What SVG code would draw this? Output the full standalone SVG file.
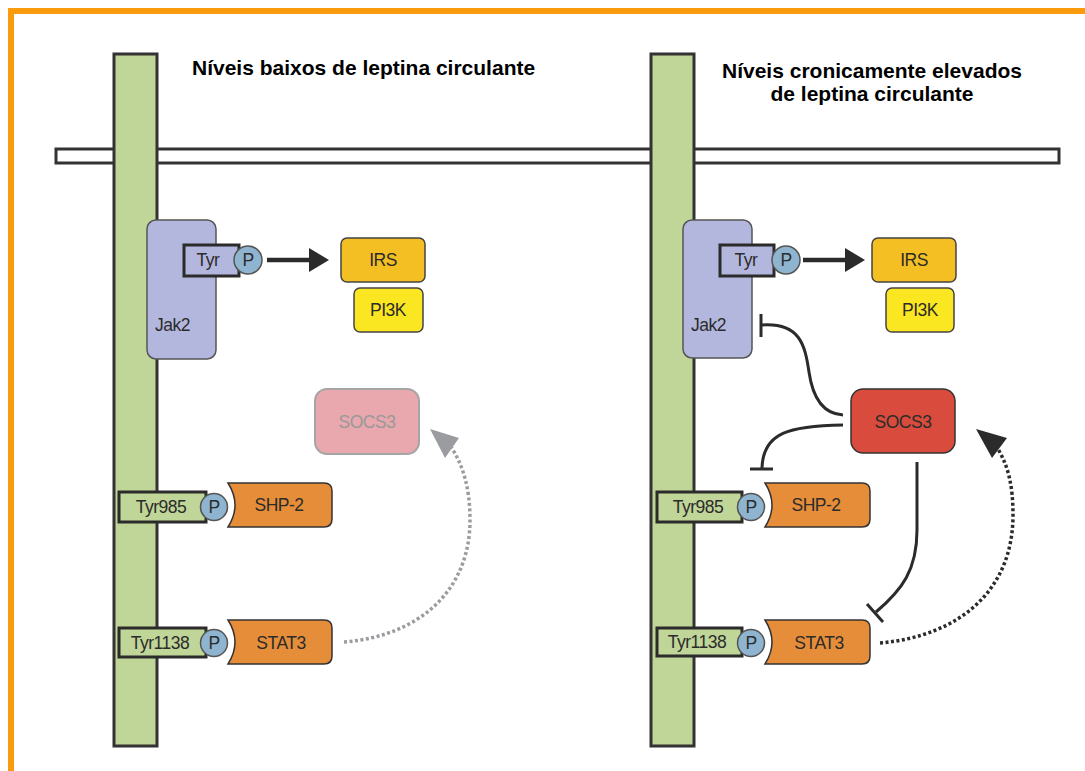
<svg xmlns="http://www.w3.org/2000/svg" width="1085" height="771" viewBox="0 0 1085 771">
<style>
text{font-family:"Liberation Sans",Arial,sans-serif;fill:#2b2b2b}
.title{font-weight:bold;font-size:21px;fill:#000}
.lbl{font-size:17.5px;letter-spacing:-0.5px}
.pillar{fill:#c0d698;stroke:#333;stroke-width:3}
.jak{fill:#b3b7dd;stroke:#555;stroke-width:1.5}
.tyr{fill:#b3b7dd;stroke:#2b2b2b;stroke-width:3}
.tyrg{fill:#c0d698;stroke:#2b2b2b;stroke-width:3}
.p{fill:#8fb4cf;stroke:#555;stroke-width:1.5}
.irs{fill:#f3bf22;stroke:#444;stroke-width:1.5}
.pi3k{fill:#fbe622;stroke:#444;stroke-width:1.5}
.org{fill:#e68d39;stroke:#333;stroke-width:1.5}
.inh{fill:none;stroke:#2b2b2b;stroke-width:3}
.dot{fill:none;stroke-width:3.5;stroke-dasharray:3 2.5}
</style>
<rect x="0" y="0" width="1085" height="771" fill="#fff"/>
<rect x="8" y="8" width="1077" height="6" fill="#f99b0c"/>
<rect x="8" y="8" width="6" height="763" fill="#f99b0c"/>

<g id="titles">
<text class="title" x="192" y="75">Níveis baixos de leptina circulante</text>
<text class="title" x="872" y="78" text-anchor="middle">Níveis cronicamente elevados</text>
<text class="title" x="872" y="101" text-anchor="middle">de leptina circulante</text>
</g>

<g id="membrane"><rect x="56" y="149" width="1003" height="14" fill="#fff" stroke="#333" stroke-width="3"/></g>
<g id="receptor-left"><rect class="pillar" x="114" y="54" width="43" height="692"/></g>
<g id="receptor-right"><rect class="pillar" x="651" y="54" width="43" height="692"/></g>

<g id="connectors">
<path d="M267,260 H312" stroke="#2b2b2b" stroke-width="4.5" fill="none"/>
<path d="M309,248 L329,260 L309,272 z" fill="#2b2b2b"/>
<path d="M803,260 H848" stroke="#2b2b2b" stroke-width="4.5" fill="none"/>
<path d="M845,248 L865,260 L845,272 z" fill="#2b2b2b"/>
<path class="dot" stroke="#9a9ca0" d="M344,642 C420,636 470,590 470,520 C470,488 463,465 451,447"/>
<path d="M430,429 L459,438 L445,458 z" fill="#9a9ca0"/>
<path class="dot" stroke="#2b2b2b" d="M880,643 C960,636 1013,590 1013,515 C1013,485 1008,466 998,449"/>
<path d="M976,429 L1007,438 L992,458 z" fill="#2b2b2b"/>
<path class="inh" d="M761,325 C800,322 805,345 809,372 C813,400 825,414 843,415"/>
<path class="inh" d="M761,314 V337"/>
<path class="inh" d="M843,425 C790,426 763,432 762,468"/>
<path class="inh" d="M750,469 H773"/>
<path class="inh" d="M917,462 V530 C917,570 902,590 876,612"/>
<path class="inh" d="M867,604 L883,622"/>
</g>

<g id="jak2-left">
<rect class="jak" x="147" y="220" width="69" height="139" rx="9"/>
<text class="lbl" x="155" y="331">Jak2</text>
</g>
<g id="tyr-left">
<rect class="tyr" x="184" y="245" width="55" height="31"/>
<text class="lbl" x="208" y="266" text-anchor="middle">Tyr</text>
<circle class="p" cx="248" cy="260" r="14"/>
<text class="lbl" x="248" y="266" text-anchor="middle">P</text>
</g>
<g id="irs-left"><rect class="irs" x="341" y="238" width="84" height="44" rx="6"/><text class="lbl" x="383" y="266" text-anchor="middle">IRS</text></g>
<g id="pi3k-left"><rect class="pi3k" x="354" y="288" width="69" height="44" rx="6"/><text class="lbl" x="388" y="316" text-anchor="middle">PI3K</text></g>
<g id="socs3-left"><rect x="315" y="389" width="104" height="65" rx="12" fill="#e8a8ad" stroke="#a5a5a5" stroke-width="2"/><text class="lbl" x="367" y="428" text-anchor="middle" style="fill:#999">SOCS3</text></g>
<g id="tyr985-left">
<rect class="tyrg" x="119" y="492" width="87" height="30"/>
<text class="lbl" x="161" y="513" text-anchor="middle">Tyr985</text>
<circle class="p" cx="214" cy="507" r="13.5"/>
<text class="lbl" x="214" y="513" text-anchor="middle">P</text>
</g>
<g id="shp2-left"><path class="org" d="M228,483 H324 Q332,483 332,491 V519 Q332,527 324,527 H228 Q242,505 228,483 z"/><text class="lbl" x="279" y="511" text-anchor="middle">SHP-2</text></g>
<g id="tyr1138-left">
<rect class="tyrg" x="119" y="628" width="87" height="29"/>
<text class="lbl" x="160" y="649" text-anchor="middle">Tyr1138</text>
<circle class="p" cx="214" cy="643" r="13.5"/>
<text class="lbl" x="214" y="649" text-anchor="middle">P</text>
</g>
<g id="stat3-left"><path class="org" d="M228,620 H324 Q332,620 332,628 V656 Q332,664 324,664 H228 Q242,642 228,620 z"/><text class="lbl" x="281" y="649" text-anchor="middle">STAT3</text></g>

<g id="jak2-right">
<rect class="jak" x="683" y="220" width="69" height="138" rx="9"/>
<text class="lbl" x="691" y="331">Jak2</text>
</g>
<g id="tyr-right">
<rect class="tyr" x="720" y="245" width="54" height="31"/>
<text class="lbl" x="746" y="266" text-anchor="middle">Tyr</text>
<circle class="p" cx="786" cy="260" r="14"/>
<text class="lbl" x="786" y="266" text-anchor="middle">P</text>
</g>
<g id="irs-right"><rect class="irs" x="872" y="238" width="84" height="44" rx="6"/><text class="lbl" x="914" y="266" text-anchor="middle">IRS</text></g>
<g id="pi3k-right"><rect class="pi3k" x="886" y="288" width="68" height="44" rx="6"/><text class="lbl" x="920" y="316" text-anchor="middle">PI3K</text></g>
<g id="socs3-right"><rect x="851" y="389" width="104" height="64" rx="12" fill="#d84b3d" stroke="#333" stroke-width="1.5"/><text class="lbl" x="903" y="428" text-anchor="middle">SOCS3</text></g>
<g id="tyr985-right">
<rect class="tyrg" x="657" y="492" width="85" height="30"/>
<text class="lbl" x="698" y="513" text-anchor="middle">Tyr985</text>
<circle class="p" cx="751" cy="507" r="13.5"/>
<text class="lbl" x="751" y="513" text-anchor="middle">P</text>
</g>
<g id="shp2-right"><path class="org" d="M765,483 H862 Q870,483 870,491 V519 Q870,527 862,527 H765 Q779,505 765,483 z"/><text class="lbl" x="816" y="511" text-anchor="middle">SHP-2</text></g>
<g id="tyr1138-right">
<rect class="tyrg" x="657" y="628" width="85" height="28"/>
<text class="lbl" x="697" y="648" text-anchor="middle">Tyr1138</text>
<circle class="p" cx="751" cy="643" r="13.5"/>
<text class="lbl" x="751" y="649" text-anchor="middle">P</text>
</g>
<g id="stat3-right"><path class="org" d="M765,620 H862 Q870,620 870,628 V656 Q870,664 862,664 H765 Q779,642 765,620 z"/><text class="lbl" x="819" y="649" text-anchor="middle">STAT3</text></g>
</svg>
